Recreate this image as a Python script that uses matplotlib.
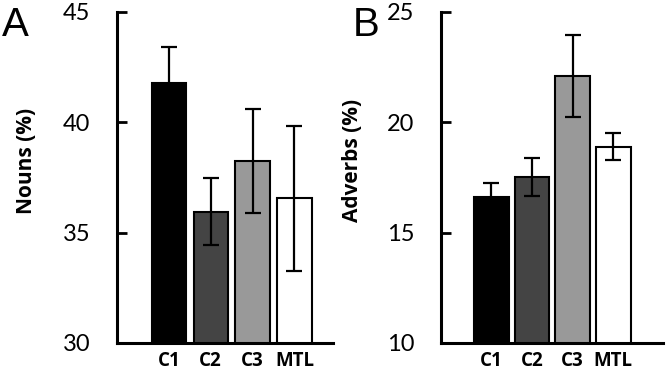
import numpy as np
import matplotlib
matplotlib.use('Agg')
from matplotlib import pyplot as plt

groups = ['C1', 'C2', 'C3', 'MTL']
nouns = [41.8, 35.95, 38.25, 36.55]
nouns_err = [1.6, 1.52, 2.35, 3.3]
adverbs = [16.6, 17.52, 22.1, 18.9]
adverbs_err = [0.64, 0.87, 1.86, 0.63]
colors = ['#000000', '#444444', '#999999', '#ffffff']

plt.rcParams['font.family'] = ['Lato', 'DejaVu Sans']
bold_font = ['Open Sans', 'DejaVu Sans']

fig = plt.figure(figsize=(6.68, 3.74), dpi=100)


def panel(rect, values, errors, ylim, yticks, ylabel, xlim, width, letter, letter_x, label_x):
    ax = fig.add_axes(rect)
    x = np.arange(len(groups))
    ax.bar(x, values, width=width, color=colors, edgecolor='black', linewidth=1.5, zorder=2)
    ax.errorbar(x, values, yerr=errors, fmt='none', ecolor='black', elinewidth=1.6,
                capsize=6, capthick=1.6, zorder=3)
    ax.set_xlim(*xlim)
    ax.set_ylim(*ylim)
    ax.set_yticks(yticks)
    ax.set_xticks(x)
    ax.set_xticklabels(groups, fontweight='bold', fontsize=13.5, family=bold_font)
    ax.tick_params(axis='x', length=0, pad=6)
    ax.tick_params(axis='y', direction='in', length=7, width=2, labelsize=17, pad=19)
    for s in ['top', 'right']:
        ax.spines[s].set_visible(False)
    for s in ['left', 'bottom']:
        ax.spines[s].set_linewidth(2.2)
    ax.set_ylabel(ylabel, fontweight='bold', fontsize=15, family=bold_font)
    ax.yaxis.set_label_coords(label_x, 0.55)
    fig.text(letter_x, 0.985, letter, fontsize=29, family='Liberation Sans', va='top', ha='left')
    return ax


panel([0.175, 0.083, 0.3235, 0.885], nouns, nouns_err, (30, 45), [30, 35, 40, 45],
      'Nouns (%)', (-1.24, 3.92), 0.82, 'A', 0.003, -0.37)
panel([0.660, 0.083, 0.3325, 0.885], adverbs, adverbs_err, (10, 25), [10, 15, 20, 25],
      'Adverbs (%)', (-1.24, 4.22), 0.86, 'B', 0.528, -0.35)

fig.savefig('out.png', dpi=100)
